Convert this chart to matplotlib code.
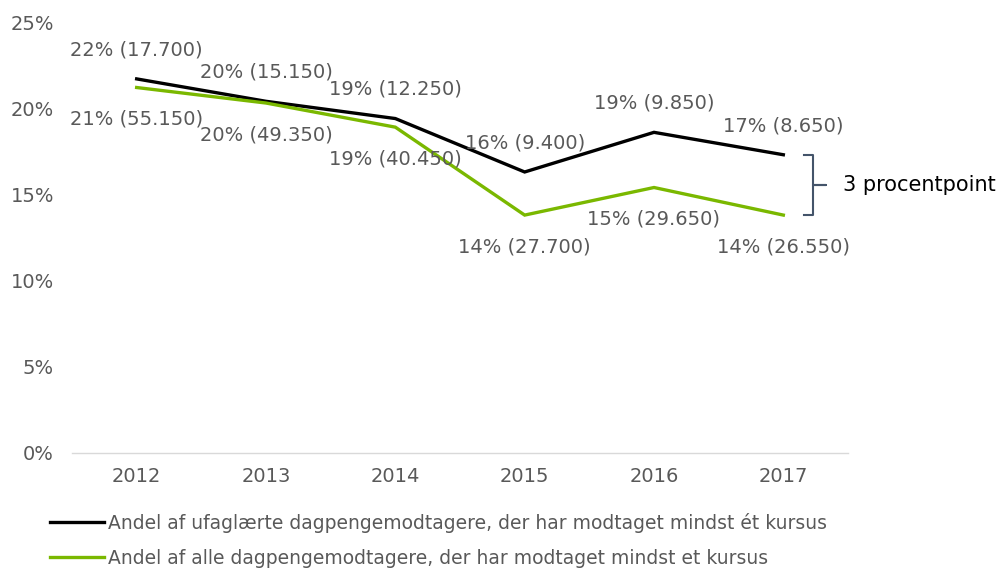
import numpy as np
import matplotlib.pyplot as plt
from matplotlib.ticker import MultipleLocator, FuncFormatter

years = ['2012', '2013', '2014', '2015', '2016', '2017']
ufaglaerte = [21.7, 20.4, 19.4, 16.3, 18.6, 17.3]
ufaglaerte_labels = ['22% (17.700)', '20% (15.150)', '19% (12.250)',
                     '16% (9.400)', '19% (9.850)', '17% (8.650)']
alle = [21.2, 20.3, 18.9, 13.8, 15.4, 13.8]
alle_labels = ['21% (55.150)', '20% (49.350)', '19% (40.450)',
               '14% (27.700)', '15% (29.650)', '14% (26.550)']
names = ['Andel af ufaglærte dagpengemodtagere, der har modtaget mindst ét kursus',
         'Andel af alle dagpengemodtagere, der har modtaget mindst et kursus']
bracket_text = '3 procentpoint'

grey = '#595959'
green = '#7AB800'

plt.rcParams['font.family'] = ['DejaVu Sans']

fig = plt.figure(figsize=(10, 5.71), dpi=100)
ax = fig.add_axes([0.072, 1 - 453 / 571, 0.776, 431 / 571])

x = np.arange(len(years))
l1, = ax.plot(x, ufaglaerte, color='black', lw=2.4, solid_joinstyle='miter')
l2, = ax.plot(x, alle, color=green, lw=2.4, solid_joinstyle='miter')

for i in range(len(years)):
    ax.annotate(ufaglaerte_labels[i], (x[i], ufaglaerte[i]), xytext=(0, 21),
                textcoords='offset points', ha='center', va='center',
                fontsize=14, color=grey)
    ax.annotate(alle_labels[i], (x[i], alle[i]), xytext=(0, -23),
                textcoords='offset points', ha='center', va='center',
                fontsize=14, color=grey)

# bracket to the right of the last points
top = ufaglaerte[-1]
bot = alle[-1]
mid = (top + bot) / 2
bx0, bx1, bx2 = 5.16, 5.23, 5.33
ax.plot([bx0, bx1, bx1, bx2, bx1, bx1, bx0],
        [top, top, mid, mid, mid, bot, bot],
        color='#44546A', lw=1.5, clip_on=False)
ax.text(5.46, mid, bracket_text, fontsize=15, color='black', va='center', ha='left')

ax.set_xlim(-0.5, 5.5)
ax.set_ylim(0, 25)
ax.set_xticks(x)
ax.set_xticklabels(years)
ax.yaxis.set_major_locator(MultipleLocator(5))
ax.yaxis.set_major_formatter(FuncFormatter(lambda v, p: '%d%%' % v))
ax.tick_params(axis='both', length=0, labelsize=14, labelcolor=grey)
ax.tick_params(axis='y', pad=13)
ax.tick_params(axis='x', pad=10)

for s in ['top', 'right', 'left']:
    ax.spines[s].set_visible(False)
ax.spines['bottom'].set_color('#D9D9D9')
ax.spines['bottom'].set_linewidth(1)

leg = fig.legend([l1, l2], names, loc='upper left',
                 bbox_to_anchor=(0.05, 1 - 513 / 571), frameon=False,
                 fontsize=13.5, handlelength=2.9, handletextpad=0.2,
                 labelspacing=0.85, borderpad=0, borderaxespad=0)
for t in leg.get_texts():
    t.set_color(grey)

fig.savefig('out.png', dpi=100)
